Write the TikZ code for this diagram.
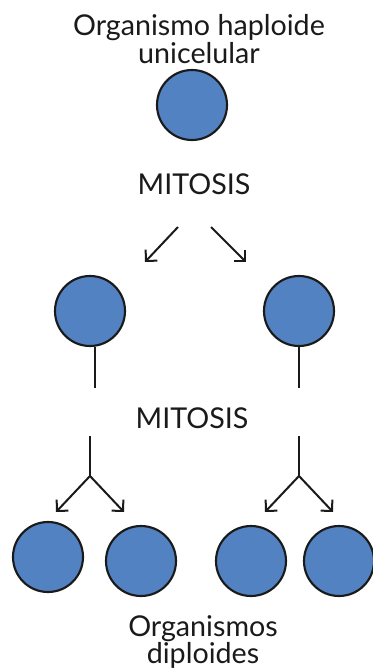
\documentclass[tikz,border=0pt]{standalone}
\usepackage{fontspec}
\setmainfont{Lato}
\usetikzlibrary{arrows.meta}
\definecolor{cellblue}{RGB}{82,130,194}
\definecolor{ink}{RGB}{26,26,26}
\tikzset{
  cell/.style={circle, draw=ink, line width=1.6pt, fill=cellblue, minimum size=52.5pt, inner sep=0pt},
  lbl/.style={align=center, font=\fontsize{21.5}{20.5}\selectfont, text=ink, inner sep=0pt},
  conn/.style={draw=ink, line width=1.5pt},
  arr/.style={conn, -{Straight Barb[length=6pt,width=12pt,line width=1.5pt]}}
}
\begin{document}
\begin{tikzpicture}[x=0.75pt,y=-0.75pt]
\useasboundingbox (0,0) rectangle (373,670);
\node[lbl] (title) at (199,39) {Organismo haploide\\unicelular};
\node[cell] (c0) at (192,105) {};
\node[lbl] (m1) at (194,184) {MITOSIS};
\coordinate (a1s) at (178,227);
\coordinate (a1e) at (145,262);
\coordinate (a2s) at (211,227);
\coordinate (a2e) at (246,262);
\draw[arr] (a1s) -- (a1e);
\draw[arr] (a2s) -- (a2e);
\node[cell] (cl) at (90,311) {};
\node[cell] (cr) at (299,311) {};
\coordinate (l1e) at (95,388);
\coordinate (r1e) at (299,388);
\draw[conn] (cl.south -| l1e) -- (l1e);
\draw[conn] (cr.south) -- (r1e);
\node[lbl] (m2) at (192,418) {MITOSIS};
\coordinate (ls) at (90,436);
\coordinate (lj) at (90,476);
\coordinate (rs) at (299,436);
\coordinate (rj) at (299,476);
\coordinate (t1) at (56,512);
\coordinate (t2) at (124,512);
\coordinate (t3) at (265,512);
\coordinate (t4) at (333,512);
\draw[conn] (ls) -- (lj);
\draw[conn] (rs) -- (rj);
\draw[arr] (lj) -- (t1);
\draw[arr] (lj) -- (t2);
\draw[arr] (rj) -- (t3);
\draw[arr] (rj) -- (t4);
\node[cell] (d1) at (48,557) {};
\node[cell] (d2) at (141,561) {};
\node[cell] (d3) at (251,561) {};
\node[cell] (d4) at (339,561) {};
\node[lbl] (bottom) at (203,642) {Organismos\\diploides};
\end{tikzpicture}
\end{document}
